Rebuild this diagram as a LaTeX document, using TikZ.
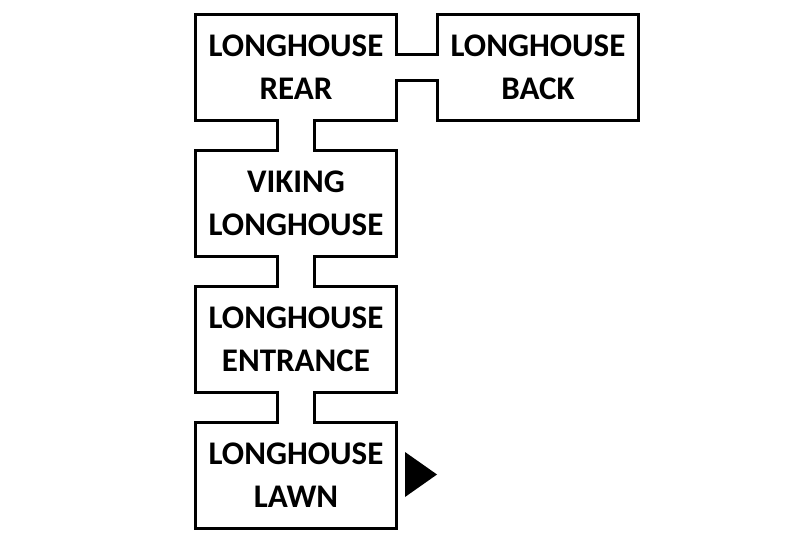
\documentclass[tikz,border=0pt]{standalone}
\usepackage{fontspec}
\setmainfont{Carlito}
\usetikzlibrary{positioning, calc}

\begin{document}
\begin{tikzpicture}[
    x=1pt, y=-1pt,
    node distance=27pt,
    room/.style={
        draw=black, line width=3pt, fill=white,
        rectangle, align=center, inner sep=0pt,
        font=\fontsize{33}{43}\selectfont\bfseries,
        minimum width=201pt, minimum height=106pt,
    },
    wall/.style={draw=black, line width=3pt},
    opening/.style={fill=white},
]
\useasboundingbox (0,0) rectangle (810,540);

\node[room] (rear) at (296,67.5) {LONGHOUSE\\REAR};
\node[room, right=38pt of rear] (back) {LONGHOUSE\\BACK};
\node[room, below=of rear] (viking) {VIKING\\LONGHOUSE};
\node[room, below=of viking] (entrance) {LONGHOUSE\\ENTRANCE};
\node[room, below=of entrance] (lawn) {LONGHOUSE\\LAWN};

% passage rear -> back
\fill[opening] ($(rear.east)+(-4,-11.5)$) rectangle ($(back.west)+(4,11.5)$);
\draw[wall] ($(rear.east)+(-1.5,-13)$) -- ($(back.west)+(1.5,-13)$);
\draw[wall] ($(rear.east)+(-1.5,13)$) -- ($(back.west)+(1.5,13)$);

% passages down the column
\foreach \upper/\lower in {rear/viking, viking/entrance, entrance/lawn} {
    \fill[opening] ($(\upper.south)+(-17,-4)$) rectangle ($(\lower.north)+(17,4)$);
    \draw[wall] ($(\upper.south)+(-18.5,-1.5)$) -- ($(\lower.north)+(-18.5,1.5)$);
    \draw[wall] ($(\upper.south)+(18.5,-1.5)$) -- ($(\lower.north)+(18.5,1.5)$);
}

% exit marker
\fill[black] ($(lawn.east)+(7,-23.5)$) -- ($(lawn.east)+(39,-1)$) -- ($(lawn.east)+(7,21.5)$) -- cycle;

\end{tikzpicture}
\end{document}
